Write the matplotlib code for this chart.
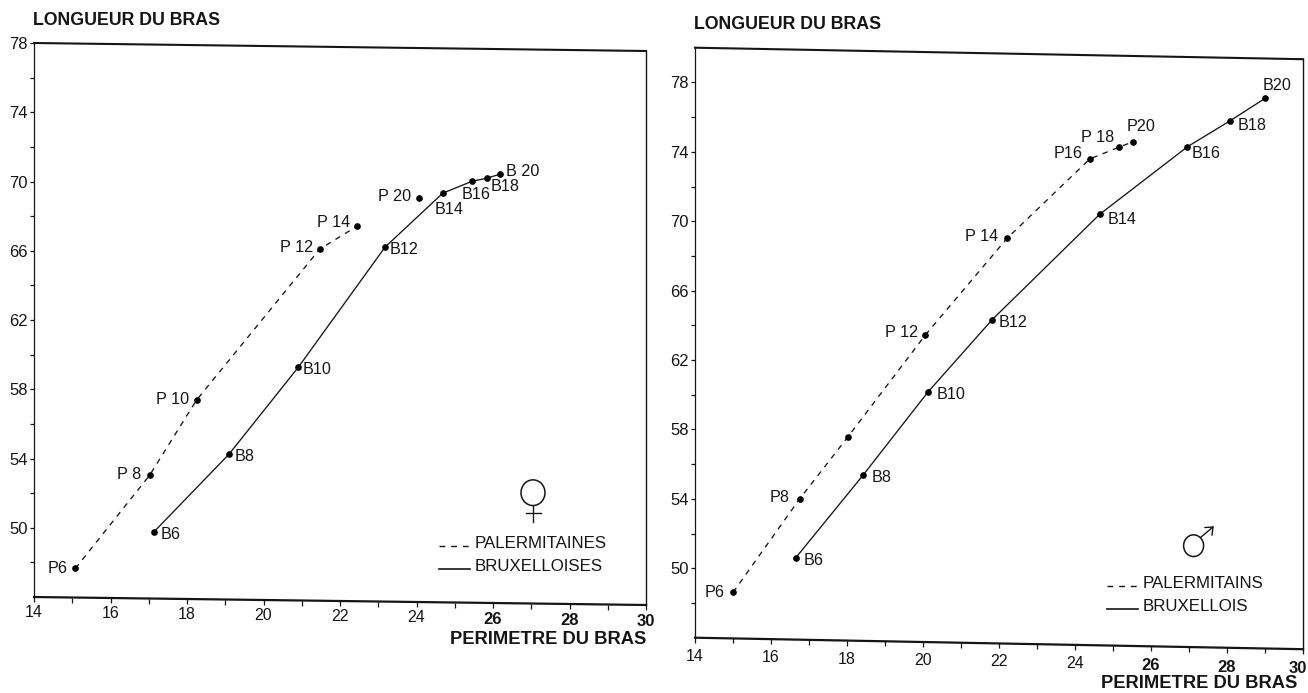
import matplotlib
matplotlib.use('Agg')
import matplotlib.pyplot as plt
from matplotlib.lines import Line2D
from matplotlib.patches import Ellipse
from matplotlib.transforms import Affine2D

W, H = 1308, 693
INK = '#151515'
plt.rcParams['font.family'] = ['Liberation Sans', 'DejaVu Sans']

# Left panel: girls (perimeter, length)
f_pal_x = [15.08, 17.02, 18.25, 21.47, 22.45]
f_pal_y = [47.68, 53.11, 57.50, 66.31, 67.67]
f_pal_names = ['P6', 'P 8', 'P 10', 'P 12', 'P 14']
f_pal_off = [(-18, 0), (-20, 1), (-24, 1), (-23, 2), (-24, 4)]
# P 20 stands alone, not joined to the dashed curve
f_extra_x = [24.07]
f_extra_y = [69.32]
f_extra_names = ['P 20']
f_extra_off = [(-25, 2)]
f_bru_x = [17.13, 19.10, 20.91, 23.18, 24.69, 25.45, 25.85, 26.19]
f_bru_y = [49.84, 54.40, 59.47, 66.48, 69.64, 70.34, 70.54, 70.78]
f_bru_names = ['B6', 'B8', 'B10', 'B12', 'B14', 'B16', 'B18', 'B 20']
f_bru_off = [(17, -2), (16, -2), (19, -2), (19, -2), (6, -16), (4, -13), (18, -8), (22, 3)]

# Right panel: boys
m_pal_x = [15.00, 16.75, 18.02, 20.06, 22.21, 24.39, 25.17, 25.53]
m_pal_y = [48.65, 54.10, 57.73, 63.69, 69.35, 74.02, 74.74, 75.06]
m_pal_names = ['P6', 'P8', '', 'P 12', 'P 14', 'P16', 'P 18', 'P20']
m_pal_off = [(-18, 0), (-20, 2), (0, 0), (-24, 3), (-25, 2), (-22, 5), (-22, 10), (8, 15)]
m_bru_x = [16.65, 18.43, 20.13, 21.82, 24.65, 26.96, 28.08, 29.00]
m_bru_y = [50.71, 55.57, 60.41, 64.65, 70.84, 74.83, 76.37, 77.70]
m_bru_names = ['B6', 'B8', 'B10', 'B12', 'B14', 'B16', 'B18', 'B20']
m_bru_off = [(18, -3), (18, -3), (23, -2), (21, -3), (22, -5), (19, -7), (22, -5), (12, 13)]

x_major = [14, 16, 18, 20, 22, 24, 26, 28, 30]
x_all = list(range(14, 31))
y_major = [50, 54, 58, 62, 66, 70, 74, 78]
y_minor = [48, 52, 56, 60, 64, 68, 72, 76]

fig = plt.figure(figsize=(W / 100, H / 100), dpi=100, facecolor='white')
# pixel coordinates of the reference, origin top left
px = Affine2D().scale(1 / W, -1 / H).translate(0, 1) + fig.transFigure


def make_panel(box, ylim, drop, xlabel_pos, ylabel_pos, pad_px):
    left, top, right, bottom = box
    ax = fig.add_axes([left / W, 1 - bottom / H, (right - left) / W, (bottom - top) / H])
    ax.set_xlim(14, 30)
    ax.set_ylim(*ylim)
    ax.set_autoscale_on(False)
    for side in ['top', 'right', 'bottom']:
        ax.spines[side].set_visible(False)
    ax.spines['left'].set_linewidth(0.9)
    ax.spines['left'].set_color(INK)

    # the page was scanned slightly crooked: everything sinks to the right
    k = (drop / 16) / ((bottom - top) / (ylim[1] - ylim[0]))
    tilt = Affine2D.from_values(1, -k, 0, 1, 0, 14 * k) + ax.transData

    ax.plot([14, 30], [ylim[1], ylim[1]], color=INK, lw=1.5, transform=tilt, clip_on=False)
    ax.plot([14, 30], [ylim[0], ylim[0]], color=INK, lw=1.6, transform=tilt, clip_on=False)
    ax.plot([30, 30], list(ylim), color=INK, lw=1.0, transform=tilt, clip_on=False)
    ax.plot(x_all, [ylim[0]] * len(x_all), ls='none', marker=3, ms=3.5, mew=0.9, color=INK,
            transform=tilt, clip_on=False)

    ax.set_xticks(x_major)
    ax.set_xticklabels([str(v) for v in x_major])
    ax.tick_params(axis='x', length=0, labelsize=11.5, colors=INK)
    for v, tick in zip(x_major, ax.xaxis.get_major_ticks()):
        tick.set_pad((pad_px + (v - 14) * drop / 16 + (1 if v >= 26 else 0)) * 0.72)
        if v >= 26:
            tick.label1.set_fontweight('bold')
            tick.label1.set_fontsize(12)

    ax.set_yticks(y_major)
    ax.set_yticks(y_minor, minor=True)
    ax.tick_params(axis='y', which='both', length=3, width=0.9, pad=1.5, labelsize=12, colors=INK)

    ax.set_xlabel('PERIMETRE DU BRAS', fontsize=13.2, fontweight='bold', color=INK, ha='right', va='center')
    ax.xaxis.set_label_coords(*xlabel_pos)
    ax.set_ylabel('LONGUEUR DU BRAS', fontsize=12.8, fontweight='bold', color=INK, rotation=0,
                  ha='left', va='center')
    ax.yaxis.set_label_coords(*ylabel_pos)
    return ax, tilt


def draw_series(ax, tilt, xs, ys, names, offsets, style):
    ax.plot(xs, ys, color=INK, lw=0.95, ls=style, transform=tilt, clip_on=False)
    ax.plot(xs, ys, ls='none', marker='o', ms=3.8, color='black', transform=tilt, clip_on=False)
    for x, y, name, off in zip(xs, ys, names, offsets):
        if name:
            ax.annotate(name, (x, y), xycoords=tilt, xytext=off, textcoords='offset pixels',
                        ha='center', va='center', fontsize=11.6, color=INK)


def add_legend(ax, labels, anchor):
    handles = [Line2D([], [], color=INK, lw=1.0, ls=DASH), Line2D([], [], color=INK, lw=1.2)]
    leg = ax.legend(handles, labels, loc='upper left', bbox_to_anchor=anchor, bbox_transform=px,
                    frameon=False, borderpad=0, borderaxespad=0, fontsize=12.2,
                    handlelength=1.82, handletextpad=0.3, labelspacing=0.45, labelcolor=INK)
    for text in leg.get_texts():
        text.set_y(4)


def add_line(xs, ys, lw=1.0):
    fig.add_artist(Line2D(xs, ys, color=INK, lw=lw, transform=px))


DASH = (0, (4.2, 4.2))

ax1, tilt1 = make_panel((34, 43, 646, 597), (46, 78), 8, (1.0, -0.0776), (-0.002, 1.0415), 8)
draw_series(ax1, tilt1, f_pal_x, f_pal_y, f_pal_names, f_pal_off, DASH)
draw_series(ax1, tilt1, f_extra_x, f_extra_y, f_extra_names, f_extra_off, 'none')
draw_series(ax1, tilt1, f_bru_x, f_bru_y, f_bru_names, f_bru_off, '-')
add_legend(ax1, ['PALERMITAINES', 'BRUXELLOISES'], (439, 540))

ax2, tilt2 = make_panel((695, 47.7, 1303, 637.7), (46, 80), 11.5, (0.991, -0.0768), (-0.002, 1.040), 11)
draw_series(ax2, tilt2, m_pal_x, m_pal_y, m_pal_names, m_pal_off, DASH)
draw_series(ax2, tilt2, m_bru_x, m_bru_y, m_bru_names, m_bru_off, '-')
add_legend(ax2, ['PALERMITAINS', 'BRUXELLOIS'], (1107, 580))

# the last label of the right panel has to stay inside the page
last = ax2.xaxis.get_major_ticks()[-1].label1
last.set_ha('right')
last.set_transform(last.get_transform() + Affine2D().translate(4, 0))

# female sign
fig.add_artist(Ellipse((533, 492.7), 24, 25.7, fill=False, ec=INK, lw=1.1, transform=px))
add_line([533, 533], [505.5, 522])
add_line([525.5, 540.5], [513, 513])

# male sign
fig.add_artist(Ellipse((1193.6, 545.7), 20, 21.7, fill=False, ec=INK, lw=1.1, transform=px))
add_line([1200.5, 1213], [537.5, 527])
add_line([1205, 1213, 1212], [527.5, 527, 535])

fig.savefig('out.png', dpi=100, facecolor='white')
